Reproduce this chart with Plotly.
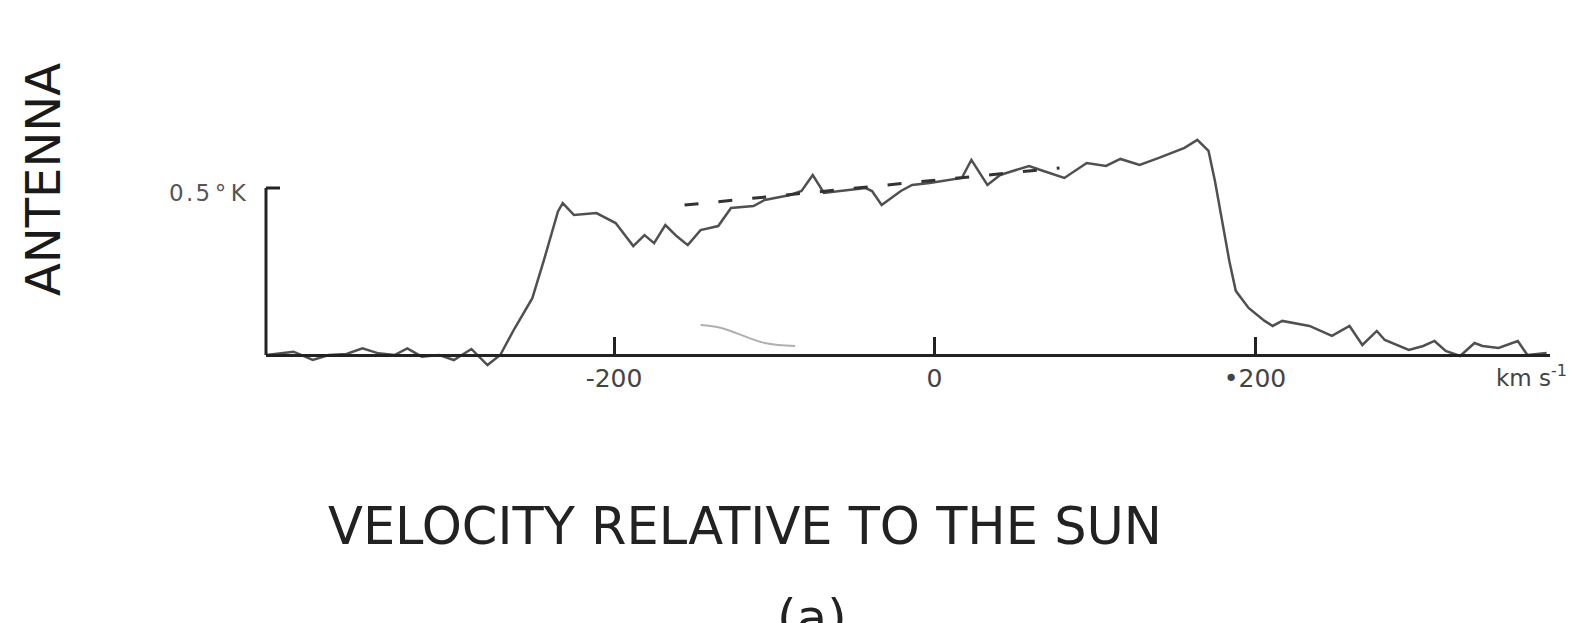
import plotly.graph_objects as go

# ---- data (velocity in km/s, antenna temperature in K) ----
velocity = [-417, -400, -388, -378, -367, -357, -347, -337, -329, -320, -309, -300,
            -289, -279, -271, -262, -251, -244, -235, -232, -225, -211, -199, -188,
            -181, -175, -168, -161, -154, -146, -135, -127, -113, -106, -90, -83,
            -76, -69, -59, -43, -39, -33, -21, -14, -3, 17, 23, 33, 41, 59, 68,
            81, 95, 107, 116, 128, 140, 156, 164, 171, 175, 180, 184, 188, 196,
            206, 211, 217, 234, 248, 259, 267, 276, 281, 296, 305, 312, 319, 328,
            337, 342, 352, 364, 370, 382]
temperature = [0.0, 0.01, -0.015, 0.0, 0.003, 0.02, 0.005, 0.0, 0.02, -0.005, 0.0, -0.015,
               0.018, -0.03, 0.0, 0.08, 0.17, 0.28, 0.43, 0.455, 0.419, 0.425, 0.395, 0.326,
               0.359, 0.335, 0.389, 0.356, 0.329, 0.374, 0.386, 0.44, 0.446, 0.464, 0.479, 0.491,
               0.539, 0.485, 0.491, 0.5, 0.491, 0.449, 0.491, 0.509, 0.515, 0.53, 0.584, 0.509, 0.539, 0.566, 0.551,
               0.53, 0.575, 0.566, 0.587, 0.569, 0.59, 0.62, 0.644, 0.611, 0.521, 0.389, 0.281, 0.192, 0.141,
               0.102, 0.087, 0.102, 0.087, 0.057, 0.087, 0.03, 0.072, 0.045, 0.015, 0.027, 0.042, 0.012, -0.003,
               0.036, 0.027, 0.021, 0.042, 0.0, 0.006]

# dashed baseline-fit line
dash_velocity = [-156, 78]
dash_temperature = [0.449, 0.56]

# faint pencil stroke present in the scan
stroke_velocity = [-146, -133, -106, -87]
stroke_temperature = [0.09, 0.081, 0.036, 0.027]

tick_values = [-200, 0, 200]
tick_labels = ["-200", "0", "\u2022200"]
y_mark_value = 0.5
y_mark_label = "0\u200a.\u200a5\u2009°\u2009K"

# ---- layout geometry ----
W, H = 1591, 623
ML, MR, MT, MB = 258, 49, 100, 243
PW = W - ML - MR
PH = H - MT - MB
X_RANGE = [-417.2, 384.1]
Y_RANGE = [-0.0988, 0.7395]


def px(xpix):
    return (xpix - ML) / PW


def py(ypix):
    return (H - MB - ypix) / PH


FONT = "DejaVu Sans"
AXIS_COLOR = "#222222"

fig = go.Figure()
fig.add_trace(go.Scatter(x=velocity, y=temperature, mode="lines",
                         line=dict(color="#505050", width=2.5),
                         hoverinfo="skip", showlegend=False))
fig.add_trace(go.Scatter(x=dash_velocity, y=dash_temperature, mode="lines",
                         line=dict(color="#333333", width=3, dash="14px,20px"),
                         hoverinfo="skip", showlegend=False))
fig.add_trace(go.Scatter(x=stroke_velocity, y=stroke_temperature, mode="lines",
                         line=dict(color="#b0b0b0", width=2, shape="spline"),
                         hoverinfo="skip", showlegend=False))

# y axis bar with top tick
fig.add_shape(type="line", xref="x domain", yref="y", x0=0, x1=0, y0=0, y1=y_mark_value,
              line=dict(color=AXIS_COLOR, width=3))
fig.add_shape(type="line", xref="x domain", yref="y", x0=0, x1=14 / PW,
              y0=y_mark_value, y1=y_mark_value, line=dict(color=AXIS_COLOR, width=3))

fig.add_annotation(xref="x domain", yref="y", x=0, y=y_mark_value, text=y_mark_label,
                   xanchor="right", yanchor="middle", xshift=-17, yshift=-5,
                   showarrow=False, font=dict(family=FONT, size=23, color="#555555"))

fig.add_annotation(xref="paper", yref="paper", x=px(35), y=py(172), text="ANTENNA",
                   textangle=-90, showarrow=False, xanchor="center", yanchor="middle",
                   font=dict(family=FONT, size=48, color="#1a1a1a"))
fig.add_annotation(xref="paper", yref="paper", x=px(737), y=py(518),
                   text="VELOCITY RELATIVE TO THE SUN", showarrow=False,
                   xanchor="center", yanchor="middle",
                   font=dict(family=FONT, size=51, color="#222222"))
fig.add_annotation(xref="paper", yref="paper", x=px(804), y=py(610), text="(a)",
                   showarrow=False, xanchor="center", yanchor="middle",
                   font=dict(family=FONT, size=50, color="#222222"))
fig.add_annotation(xref="paper", yref="paper", x=px(1486), y=py(368),
                   text="km s<sup>-1</sup>", showarrow=False,
                   xanchor="left", yanchor="middle",
                   font=dict(family=FONT, size=23, color="#444444"))

fig.update_layout(
    width=W, height=H,
    margin=dict(l=ML, r=MR, t=MT, b=MB, pad=0),
    paper_bgcolor="white", plot_bgcolor="white",
    showlegend=False,
    xaxis=dict(range=X_RANGE, anchor="free", position=py(347),
               showline=True, linecolor=AXIS_COLOR, linewidth=3,
               ticks="inside", ticklen=17, tickwidth=3, tickcolor=AXIS_COLOR,
               tickvals=tick_values, ticktext=tick_labels,
               tickfont=dict(family=FONT, size=25, color="#444444"),
               ticklabelstandoff=0,
               showgrid=False, zeroline=False, fixedrange=True),
    yaxis=dict(range=Y_RANGE, visible=False, showgrid=False, zeroline=False,
               fixedrange=True),
)

fig.write_html("out.html")
